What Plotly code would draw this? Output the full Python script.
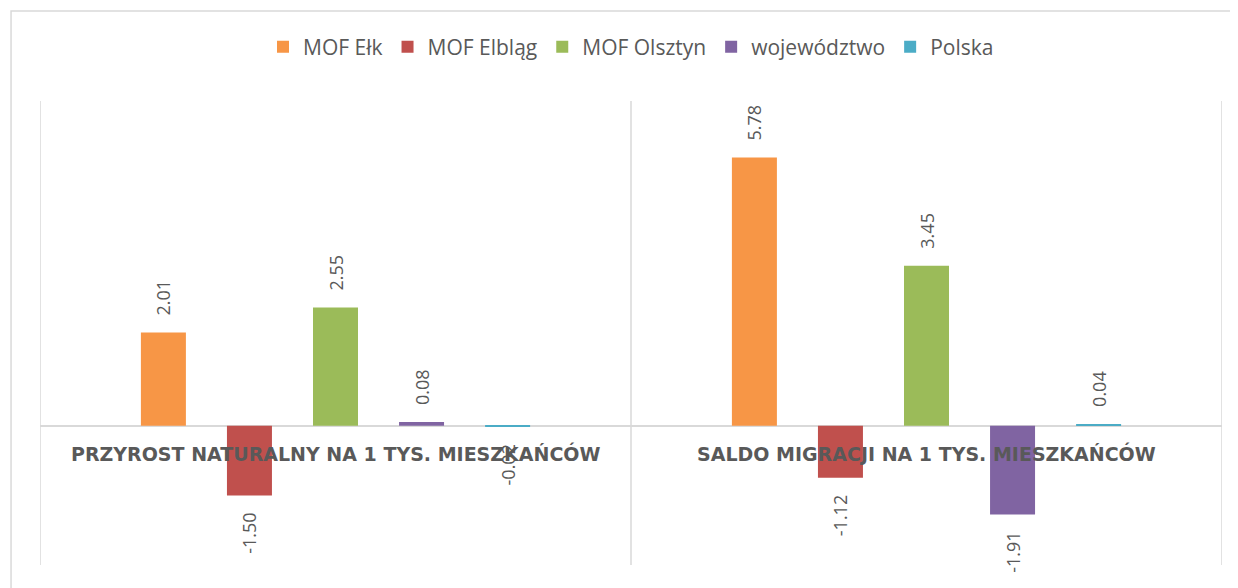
import plotly.graph_objects as go

categories = ["PRZYROST NATURALNY NA 1 TYS. MIESZKAŃCÓW", "SALDO MIGRACJI NA 1 TYS. MIESZKAŃCÓW"]
series_names = ["MOF Ełk", "MOF Elbląg", "MOF Olsztyn", "województwo", "Polska"]
mof_elk = [2.01, 5.78]
mof_elblag = [-1.50, -1.12]
mof_olsztyn = [2.55, 3.45]
wojewodztwo = [0.08, -1.91]
polska = [-0.02, 0.04]
series_values = [mof_elk, mof_elblag, mof_olsztyn, wojewodztwo, polska]
colors = ["#F79646", "#C0504D", "#9BBB59", "#8064A2", "#4BACC6"]

NB = "\u00a0" * 3

def lab(v):
    s = f"{v:.2f}"
    return NB + s if v >= 0 else s + NB

fig = go.Figure()
for name, vals, col in zip(series_names, series_values, colors):
    fig.add_trace(go.Bar(
        name=name, x=[0, 1], y=vals, marker=dict(color=col, line=dict(width=0)),
        text=[lab(v) for v in vals], textposition="outside", textangle=-90,
        constraintext="none", cliponaxis=False,
        textfont=dict(family="Open Sans", size=18, color="#595959"),
    ))

for i, c in enumerate(categories):
    fig.add_annotation(x=i, y=0, xref="x", yref="y", text=c, showarrow=False,
                       yanchor="top", yshift=-14,
                       font=dict(family="DejaVu Sans", size=19, color="#595959", weight="bold"))

for xv in [-0.5, 0.5, 1.5]:
    fig.add_shape(type="line", xref="x", yref="paper", x0=xv, x1=xv, y0=0, y1=1,
                  line=dict(color="#D9D9D9", width=1.5), layer="below")

# outer chart border
fig.add_shape(type="rect", xref="paper", yref="paper", x0=-0.0245, x1=1.1, y0=-0.2, y1=1.194,
              line=dict(color="#D9D9D9", width=1.5), layer="below")

fig.update_layout(
    width=1230, height=580,
    margin=dict(l=32, r=16, t=93, b=23),
    paper_bgcolor="white", plot_bgcolor="white",
    barmode="group", bargap=0.272, bargroupgap=0.477,
    showlegend=True,
    legend=dict(orientation="h", x=0.5, xanchor="center", y=1.116, yanchor="middle",
                font=dict(family="Open Sans", size=21, color="#595959"),
                itemclick=False, tracegroupgap=0),
    xaxis=dict(range=[-0.5, 1.5], showticklabels=False, showgrid=False, zeroline=False,
               showline=False, ticks=""),
    yaxis=dict(range=[-3, 7], showticklabels=False, showgrid=False, zeroline=True,
               zerolinecolor="#D9D9D9", zerolinewidth=1.5, showline=False, ticks=""),
)

fig.write_html("out.html")
